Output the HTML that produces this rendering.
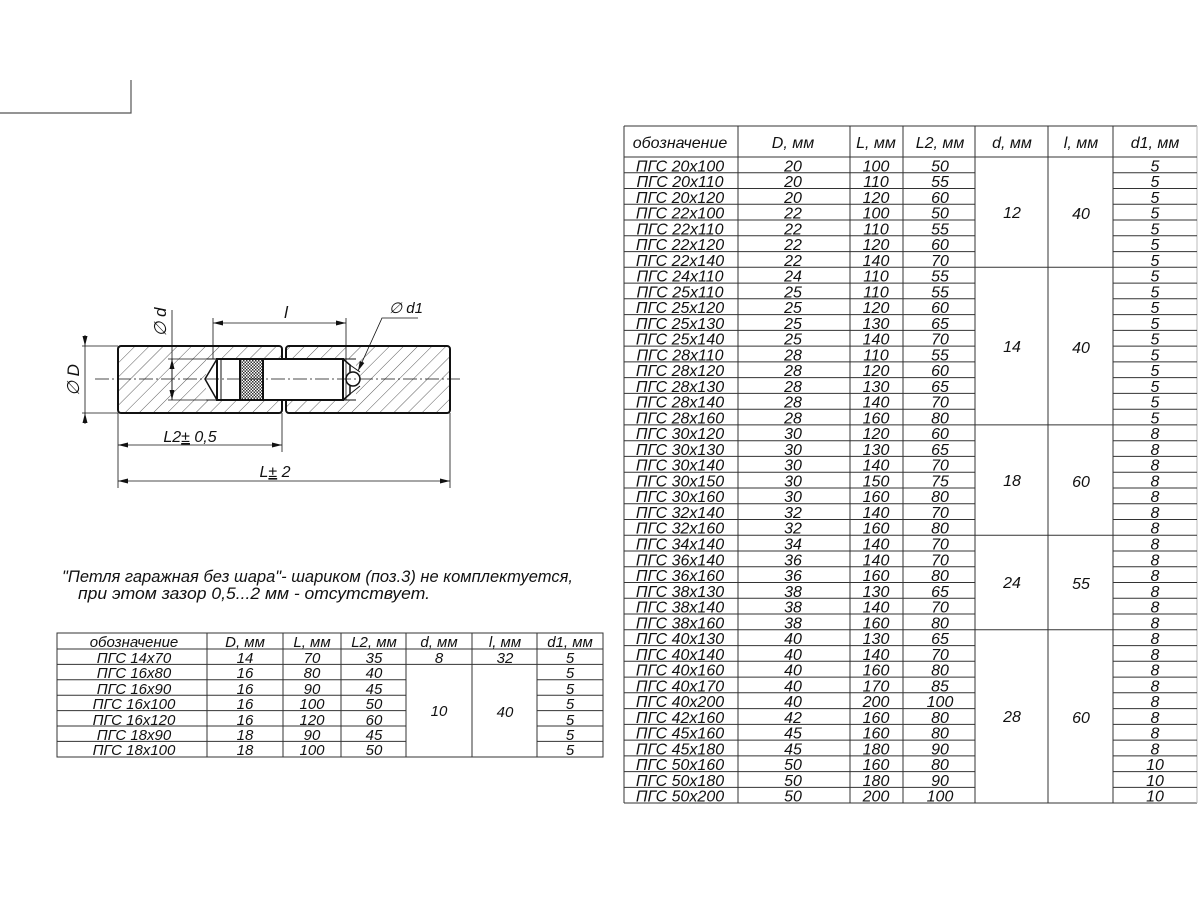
<!DOCTYPE html>
<html><head><meta charset="utf-8"><style>
html,body{margin:0;padding:0;background:#fff;}
svg{display:block;}
text{font-family:"Liberation Sans",sans-serif;font-style:italic;fill:#111;}
.t{font-size:16px;text-anchor:middle;}
.s{font-size:15px;text-anchor:middle;}
</style></head><body>
<svg width="1200" height="900" viewBox="0 0 1200 900" xmlns="http://www.w3.org/2000/svg">
<defs>
<pattern id="h" width="10" height="10" patternUnits="userSpaceOnUse" patternTransform="rotate(45)">
<line x1="0" y1="0" x2="0" y2="10" stroke="#333" stroke-width="0.8"/></pattern>
<pattern id="k" width="3" height="3" patternUnits="userSpaceOnUse">
<rect width="3" height="3" fill="#fff"/><rect width="1.5" height="1.5" fill="#333"/><rect x="1.5" y="1.5" width="1.5" height="1.5" fill="#333"/></pattern>
<marker id="a" markerWidth="10" markerHeight="6" refX="10" refY="3" orient="auto-start-reverse" markerUnits="userSpaceOnUse"><path d="M0,0.5 L10,3 L0,5.5 z" fill="#111"/></marker>
</defs>
<polyline points="0,113 131,113 131,80" fill="none" stroke="#555" stroke-width="1.2"/>

<g stroke="#111" fill="none">
<rect x="118" y="346" width="164" height="67" rx="3" fill="url(#h)" stroke-width="2"/>
<rect x="286" y="346" width="164" height="67" rx="3" fill="url(#h)" stroke-width="2"/>
<rect x="206" y="359" width="150" height="41" fill="#fff" stroke="none"/>
<line x1="206" y1="359" x2="356" y2="359" stroke-width="1"/>
<line x1="206" y1="400" x2="356" y2="400" stroke-width="1"/>
<path d="M217,359 L205,379 L217,400" stroke-width="1.5" fill="#fff"/>
<rect x="217" y="359" width="126" height="41" stroke-width="2" fill="#fff"/>
<line x1="221" y1="359" x2="221" y2="400" stroke-width="1"/>
<rect x="240" y="359" width="23" height="41" fill="url(#k)" stroke-width="2"/>
<path d="M343,359 L350,365 L350,394 L343,400" stroke-width="1.5"/>
<circle cx="353" cy="379" r="7" fill="#fff" stroke-width="1.5"/>
<path d="M350,365 L360,372 M350,394 L360,386" stroke-width="1"/>
<line x1="95" y1="379" x2="460" y2="379" stroke-width="0.7" stroke-dasharray="14,3,2,3"/>
<line x1="82" y1="346" x2="118" y2="346" stroke-width="0.8"/>
<line x1="82" y1="413" x2="118" y2="413" stroke-width="0.8"/>
<line x1="85" y1="335" x2="85" y2="346" stroke-width="0.8" marker-end="url(#a)"/>
<line x1="85" y1="424" x2="85" y2="413" stroke-width="0.8" marker-end="url(#a)"/>
<line x1="85" y1="346" x2="85" y2="413" stroke-width="0.8"/>
<line x1="168" y1="359" x2="206" y2="359" stroke-width="0.8"/>
<line x1="168" y1="400" x2="206" y2="400" stroke-width="0.8"/>
<line x1="172" y1="310" x2="172" y2="400" stroke-width="0.8"/>
<line x1="172" y1="379" x2="172" y2="359" stroke-width="0.8" marker-end="url(#a)"/>
<line x1="172" y1="380" x2="172" y2="400" stroke-width="0.8" marker-end="url(#a)"/>
<line x1="213" y1="318" x2="213" y2="359" stroke-width="0.8"/>
<line x1="346" y1="318" x2="346" y2="400" stroke-width="0.8"/>
<line x1="213" y1="323" x2="346" y2="323" stroke-width="0.8" marker-start="url(#a)" marker-end="url(#a)"/>
<line x1="118" y1="413" x2="118" y2="488" stroke-width="0.8"/>
<line x1="450" y1="413" x2="450" y2="488" stroke-width="0.8"/>
<line x1="282" y1="413" x2="282" y2="452" stroke-width="0.8"/>
<line x1="118" y1="445" x2="282" y2="445" stroke-width="0.8" marker-start="url(#a)" marker-end="url(#a)"/>
<line x1="118" y1="481" x2="450" y2="481" stroke-width="0.8" marker-start="url(#a)" marker-end="url(#a)"/>
<polyline points="418,318 382,318 358,371" stroke-width="0.8" marker-end="url(#a)"/>
</g>
<text x="286" y="318" font-size="17" text-anchor="middle">l</text>
<text x="406" y="313" font-size="15" text-anchor="middle">∅ d1</text>
<text x="190" y="442" font-size="16" text-anchor="middle">L2<tspan text-decoration="underline">±</tspan> 0,5</text>
<text x="275" y="477" font-size="16" text-anchor="middle">L<tspan text-decoration="underline">±</tspan> 2</text>
<text transform="translate(79,380) rotate(-90)" font-size="17" text-anchor="middle">∅ D</text>
<text transform="translate(166,322) rotate(-90)" font-size="17" text-anchor="middle">∅ d</text>

<text x="62" y="582" font-size="17" textLength="511" lengthAdjust="spacingAndGlyphs">"Петля гаражная без шара"- шариком (поз.3) не комплектуется,</text>
<text x="78" y="599" font-size="17" textLength="352" lengthAdjust="spacingAndGlyphs">при этом зазор 0,5...2 мм - отсутствует.</text>

<g stroke="#333" stroke-width="1" fill="none">
<rect x="57" y="633" width="546" height="124"/>
<line x1="207" y1="633" x2="207" y2="757"/><line x1="283" y1="633" x2="283" y2="757"/>
<line x1="341" y1="633" x2="341" y2="757"/><line x1="406" y1="633" x2="406" y2="757"/>
<line x1="472" y1="633" x2="472" y2="757"/><line x1="537" y1="633" x2="537" y2="757"/>
<line x1="57" y1="649" x2="603" y2="649"/>
<line x1="57" y1="664.4" x2="603" y2="664.4"/>
<line x1="57" y1="679.8" x2="406" y2="679.8"/><line x1="537" y1="679.8" x2="603" y2="679.8"/>
<line x1="57" y1="695.2" x2="406" y2="695.2"/><line x1="537" y1="695.2" x2="603" y2="695.2"/>
<line x1="57" y1="710.6" x2="406" y2="710.6"/><line x1="537" y1="710.6" x2="603" y2="710.6"/>
<line x1="57" y1="726" x2="406" y2="726"/><line x1="537" y1="726" x2="603" y2="726"/>
<line x1="57" y1="741.4" x2="406" y2="741.4"/><line x1="537" y1="741.4" x2="603" y2="741.4"/>
</g>
<g class="s">
<text x="134" y="647" class="s">обозначение</text><text x="245" y="647" class="s">D, мм</text><text x="312" y="647" class="s">L, мм</text><text x="374" y="647" class="s">L2, мм</text><text x="439" y="647" class="s">d, мм</text><text x="505" y="647" class="s">l, мм</text><text x="570" y="647" class="s">d1, мм</text>
<text x="134" y="663" class="s">ПГС 14х70</text><text x="245" y="663" class="s">14</text><text x="312" y="663" class="s">70</text><text x="374" y="663" class="s">35</text><text x="439" y="663" class="s">8</text><text x="505" y="663" class="s">32</text><text x="570" y="663" class="s">5</text>
<text x="134" y="678" class="s">ПГС 16х80</text><text x="245" y="678" class="s">16</text><text x="312" y="678" class="s">80</text><text x="374" y="678" class="s">40</text><text x="570" y="678" class="s">5</text>
<text x="134" y="694" class="s">ПГС 16х90</text><text x="245" y="694" class="s">16</text><text x="312" y="694" class="s">90</text><text x="374" y="694" class="s">45</text><text x="570" y="694" class="s">5</text>
<text x="134" y="709" class="s">ПГС 16х100</text><text x="245" y="709" class="s">16</text><text x="312" y="709" class="s">100</text><text x="374" y="709" class="s">50</text><text x="570" y="709" class="s">5</text>
<text x="134" y="725" class="s">ПГС 16х120</text><text x="245" y="725" class="s">16</text><text x="312" y="725" class="s">120</text><text x="374" y="725" class="s">60</text><text x="570" y="725" class="s">5</text>
<text x="134" y="740" class="s">ПГС 18х90</text><text x="245" y="740" class="s">18</text><text x="312" y="740" class="s">90</text><text x="374" y="740" class="s">45</text><text x="570" y="740" class="s">5</text>
<text x="134" y="755" class="s">ПГС 18х100</text><text x="245" y="755" class="s">18</text><text x="312" y="755" class="s">100</text><text x="374" y="755" class="s">50</text><text x="570" y="755" class="s">5</text>
<text x="439" y="716" class="s">10</text><text x="505" y="717" class="s" font-size="17">40</text>
</g>

<g stroke="#333" stroke-width="1" fill="none">
<line x1="624" y1="126" x2="1197" y2="126"/>
<line x1="624" y1="803" x2="1197" y2="803"/>
<line x1="624" y1="126" x2="624" y2="803"/>
<line x1="1197" y1="126" x2="1197" y2="803" stroke="#bbb"/>
<line x1="738" y1="126" x2="738" y2="803"/><line x1="850" y1="126" x2="850" y2="803"/>
<line x1="903" y1="126" x2="903" y2="803"/><line x1="975" y1="126" x2="975" y2="803"/>
<line x1="1048" y1="126" x2="1048" y2="803"/><line x1="1113" y1="126" x2="1113" y2="803"/>
<line x1="624" y1="157" x2="1197" y2="157"/>
<path d="M624,172.8H975M1113,172.8H1197M624,188.5H975M1113,188.5H1197M624,204.3H975M1113,204.3H1197M624,220H975M1113,220H1197M624,235.8H975M1113,235.8H1197M624,251.6H975M1113,251.6H1197
M624,267.3H1197
M624,283.1H975M1113,283.1H1197M624,298.8H975M1113,298.8H1197M624,314.6H975M1113,314.6H1197M624,330.4H975M1113,330.4H1197M624,346.1H975M1113,346.1H1197M624,361.9H975M1113,361.9H1197M624,377.6H975M1113,377.6H1197M624,393.4H975M1113,393.4H1197M624,409.2H975M1113,409.2H1197
M624,424.9H1197
M624,440.7H975M1113,440.7H1197M624,456.4H975M1113,456.4H1197M624,472.2H975M1113,472.2H1197M624,488H975M1113,488H1197M624,503.7H975M1113,503.7H1197M624,519.5H975M1113,519.5H1197
M624,535.2H1197
M624,551H975M1113,551H1197M624,566.8H975M1113,566.8H1197M624,582.5H975M1113,582.5H1197M624,598.3H975M1113,598.3H1197M624,614H975M1113,614H1197
M624,629.8H1197
M624,645.6H975M1113,645.6H1197M624,661.3H975M1113,661.3H1197M624,677.1H975M1113,677.1H1197M624,692.8H975M1113,692.8H1197M624,708.6H975M1113,708.6H1197M624,724.4H975M1113,724.4H1197M624,740.1H975M1113,740.1H1197M624,755.9H975M1113,755.9H1197M624,771.6H975M1113,771.6H1197M624,787.4H975M1113,787.4H1197"/>
</g>
<g>
<text x="680" y="148" class="t" font-size="17">обозначение</text><text x="793" y="148" class="t" font-size="17">D, мм</text><text x="876" y="148" class="t" font-size="17">L, мм</text><text x="940" y="148" class="t" font-size="17">L2, мм</text><text x="1012" y="148" class="t" font-size="17">d, мм</text><text x="1081" y="148" class="t" font-size="17">l, мм</text><text x="1155" y="148" class="t" font-size="17">d1, мм</text>
</g>
<g>
<text x="680" y="171.3" class="t">ПГС 20х100</text><text x="793" y="171.3" class="t">20</text><text x="876" y="171.3" class="t">100</text><text x="940" y="171.3" class="t">50</text><text x="1155" y="171.3" class="t">5</text>
<text x="680" y="187" class="t">ПГС 20х110</text><text x="793" y="187" class="t">20</text><text x="876" y="187" class="t">110</text><text x="940" y="187" class="t">55</text><text x="1155" y="187" class="t">5</text>
<text x="680" y="202.8" class="t">ПГС 20х120</text><text x="793" y="202.8" class="t">20</text><text x="876" y="202.8" class="t">120</text><text x="940" y="202.8" class="t">60</text><text x="1155" y="202.8" class="t">5</text>
<text x="680" y="218.5" class="t">ПГС 22х100</text><text x="793" y="218.5" class="t">22</text><text x="876" y="218.5" class="t">100</text><text x="940" y="218.5" class="t">50</text><text x="1155" y="218.5" class="t">5</text>
<text x="680" y="234.3" class="t">ПГС 22х110</text><text x="793" y="234.3" class="t">22</text><text x="876" y="234.3" class="t">110</text><text x="940" y="234.3" class="t">55</text><text x="1155" y="234.3" class="t">5</text>
<text x="680" y="250.1" class="t">ПГС 22х120</text><text x="793" y="250.1" class="t">22</text><text x="876" y="250.1" class="t">120</text><text x="940" y="250.1" class="t">60</text><text x="1155" y="250.1" class="t">5</text>
<text x="680" y="265.8" class="t">ПГС 22х140</text><text x="793" y="265.8" class="t">22</text><text x="876" y="265.8" class="t">140</text><text x="940" y="265.8" class="t">70</text><text x="1155" y="265.8" class="t">5</text>
<text x="680" y="281.6" class="t">ПГС 24х110</text><text x="793" y="281.6" class="t">24</text><text x="876" y="281.6" class="t">110</text><text x="940" y="281.6" class="t">55</text><text x="1155" y="281.6" class="t">5</text>
<text x="680" y="297.3" class="t">ПГС 25х110</text><text x="793" y="297.3" class="t">25</text><text x="876" y="297.3" class="t">110</text><text x="940" y="297.3" class="t">55</text><text x="1155" y="297.3" class="t">5</text>
<text x="680" y="313.1" class="t">ПГС 25х120</text><text x="793" y="313.1" class="t">25</text><text x="876" y="313.1" class="t">120</text><text x="940" y="313.1" class="t">60</text><text x="1155" y="313.1" class="t">5</text>
<text x="680" y="328.9" class="t">ПГС 25х130</text><text x="793" y="328.9" class="t">25</text><text x="876" y="328.9" class="t">130</text><text x="940" y="328.9" class="t">65</text><text x="1155" y="328.9" class="t">5</text>
<text x="680" y="344.6" class="t">ПГС 25х140</text><text x="793" y="344.6" class="t">25</text><text x="876" y="344.6" class="t">140</text><text x="940" y="344.6" class="t">70</text><text x="1155" y="344.6" class="t">5</text>
<text x="680" y="360.4" class="t">ПГС 28х110</text><text x="793" y="360.4" class="t">28</text><text x="876" y="360.4" class="t">110</text><text x="940" y="360.4" class="t">55</text><text x="1155" y="360.4" class="t">5</text>
<text x="680" y="376.1" class="t">ПГС 28х120</text><text x="793" y="376.1" class="t">28</text><text x="876" y="376.1" class="t">120</text><text x="940" y="376.1" class="t">60</text><text x="1155" y="376.1" class="t">5</text>
<text x="680" y="391.9" class="t">ПГС 28х130</text><text x="793" y="391.9" class="t">28</text><text x="876" y="391.9" class="t">130</text><text x="940" y="391.9" class="t">65</text><text x="1155" y="391.9" class="t">5</text>
<text x="680" y="407.7" class="t">ПГС 28х140</text><text x="793" y="407.7" class="t">28</text><text x="876" y="407.7" class="t">140</text><text x="940" y="407.7" class="t">70</text><text x="1155" y="407.7" class="t">5</text>
<text x="680" y="423.4" class="t">ПГС 28х160</text><text x="793" y="423.4" class="t">28</text><text x="876" y="423.4" class="t">160</text><text x="940" y="423.4" class="t">80</text><text x="1155" y="423.4" class="t">5</text>
<text x="680" y="439.2" class="t">ПГС 30х120</text><text x="793" y="439.2" class="t">30</text><text x="876" y="439.2" class="t">120</text><text x="940" y="439.2" class="t">60</text><text x="1155" y="439.2" class="t">8</text>
<text x="680" y="454.9" class="t">ПГС 30х130</text><text x="793" y="454.9" class="t">30</text><text x="876" y="454.9" class="t">130</text><text x="940" y="454.9" class="t">65</text><text x="1155" y="454.9" class="t">8</text>
<text x="680" y="470.7" class="t">ПГС 30х140</text><text x="793" y="470.7" class="t">30</text><text x="876" y="470.7" class="t">140</text><text x="940" y="470.7" class="t">70</text><text x="1155" y="470.7" class="t">8</text>
<text x="680" y="486.5" class="t">ПГС 30х150</text><text x="793" y="486.5" class="t">30</text><text x="876" y="486.5" class="t">150</text><text x="940" y="486.5" class="t">75</text><text x="1155" y="486.5" class="t">8</text>
<text x="680" y="502.2" class="t">ПГС 30х160</text><text x="793" y="502.2" class="t">30</text><text x="876" y="502.2" class="t">160</text><text x="940" y="502.2" class="t">80</text><text x="1155" y="502.2" class="t">8</text>
<text x="680" y="518" class="t">ПГС 32х140</text><text x="793" y="518" class="t">32</text><text x="876" y="518" class="t">140</text><text x="940" y="518" class="t">70</text><text x="1155" y="518" class="t">8</text>
<text x="680" y="533.7" class="t">ПГС 32х160</text><text x="793" y="533.7" class="t">32</text><text x="876" y="533.7" class="t">160</text><text x="940" y="533.7" class="t">80</text><text x="1155" y="533.7" class="t">8</text>
<text x="680" y="549.5" class="t">ПГС 34х140</text><text x="793" y="549.5" class="t">34</text><text x="876" y="549.5" class="t">140</text><text x="940" y="549.5" class="t">70</text><text x="1155" y="549.5" class="t">8</text>
<text x="680" y="565.3" class="t">ПГС 36х140</text><text x="793" y="565.3" class="t">36</text><text x="876" y="565.3" class="t">140</text><text x="940" y="565.3" class="t">70</text><text x="1155" y="565.3" class="t">8</text>
<text x="680" y="581" class="t">ПГС 36х160</text><text x="793" y="581" class="t">36</text><text x="876" y="581" class="t">160</text><text x="940" y="581" class="t">80</text><text x="1155" y="581" class="t">8</text>
<text x="680" y="596.8" class="t">ПГС 38х130</text><text x="793" y="596.8" class="t">38</text><text x="876" y="596.8" class="t">130</text><text x="940" y="596.8" class="t">65</text><text x="1155" y="596.8" class="t">8</text>
<text x="680" y="612.5" class="t">ПГС 38х140</text><text x="793" y="612.5" class="t">38</text><text x="876" y="612.5" class="t">140</text><text x="940" y="612.5" class="t">70</text><text x="1155" y="612.5" class="t">8</text>
<text x="680" y="628.3" class="t">ПГС 38х160</text><text x="793" y="628.3" class="t">38</text><text x="876" y="628.3" class="t">160</text><text x="940" y="628.3" class="t">80</text><text x="1155" y="628.3" class="t">8</text>
<text x="680" y="644.1" class="t">ПГС 40х130</text><text x="793" y="644.1" class="t">40</text><text x="876" y="644.1" class="t">130</text><text x="940" y="644.1" class="t">65</text><text x="1155" y="644.1" class="t">8</text>
<text x="680" y="659.8" class="t">ПГС 40х140</text><text x="793" y="659.8" class="t">40</text><text x="876" y="659.8" class="t">140</text><text x="940" y="659.8" class="t">70</text><text x="1155" y="659.8" class="t">8</text>
<text x="680" y="675.6" class="t">ПГС 40х160</text><text x="793" y="675.6" class="t">40</text><text x="876" y="675.6" class="t">160</text><text x="940" y="675.6" class="t">80</text><text x="1155" y="675.6" class="t">8</text>
<text x="680" y="691.3" class="t">ПГС 40х170</text><text x="793" y="691.3" class="t">40</text><text x="876" y="691.3" class="t">170</text><text x="940" y="691.3" class="t">85</text><text x="1155" y="691.3" class="t">8</text>
<text x="680" y="707.1" class="t">ПГС 40х200</text><text x="793" y="707.1" class="t">40</text><text x="876" y="707.1" class="t">200</text><text x="940" y="707.1" class="t">100</text><text x="1155" y="707.1" class="t">8</text>
<text x="680" y="722.9" class="t">ПГС 42х160</text><text x="793" y="722.9" class="t">42</text><text x="876" y="722.9" class="t">160</text><text x="940" y="722.9" class="t">80</text><text x="1155" y="722.9" class="t">8</text>
<text x="680" y="738.6" class="t">ПГС 45х160</text><text x="793" y="738.6" class="t">45</text><text x="876" y="738.6" class="t">160</text><text x="940" y="738.6" class="t">80</text><text x="1155" y="738.6" class="t">8</text>
<text x="680" y="754.4" class="t">ПГС 45х180</text><text x="793" y="754.4" class="t">45</text><text x="876" y="754.4" class="t">180</text><text x="940" y="754.4" class="t">90</text><text x="1155" y="754.4" class="t">8</text>
<text x="680" y="770.1" class="t">ПГС 50х160</text><text x="793" y="770.1" class="t">50</text><text x="876" y="770.1" class="t">160</text><text x="940" y="770.1" class="t">80</text><text x="1155" y="770.1" class="t">10</text>
<text x="680" y="785.9" class="t">ПГС 50х180</text><text x="793" y="785.9" class="t">50</text><text x="876" y="785.9" class="t">180</text><text x="940" y="785.9" class="t">90</text><text x="1155" y="785.9" class="t">10</text>
<text x="680" y="801.7" class="t">ПГС 50х200</text><text x="793" y="801.7" class="t">50</text><text x="876" y="801.7" class="t">200</text><text x="940" y="801.7" class="t">100</text><text x="1155" y="801.7" class="t">10</text>
<text x="1012" y="218" class="t">12</text><text x="1081" y="219" class="t" font-size="17">40</text>
<text x="1012" y="352" class="t">14</text><text x="1081" y="353" class="t" font-size="17">40</text>
<text x="1012" y="486" class="t">18</text><text x="1081" y="487" class="t" font-size="17">60</text>
<text x="1012" y="588" class="t">24</text><text x="1081" y="589" class="t" font-size="17">55</text>
<text x="1012" y="722" class="t">28</text><text x="1081" y="723" class="t" font-size="17">60</text>
</g>
</svg>
</body></html>
